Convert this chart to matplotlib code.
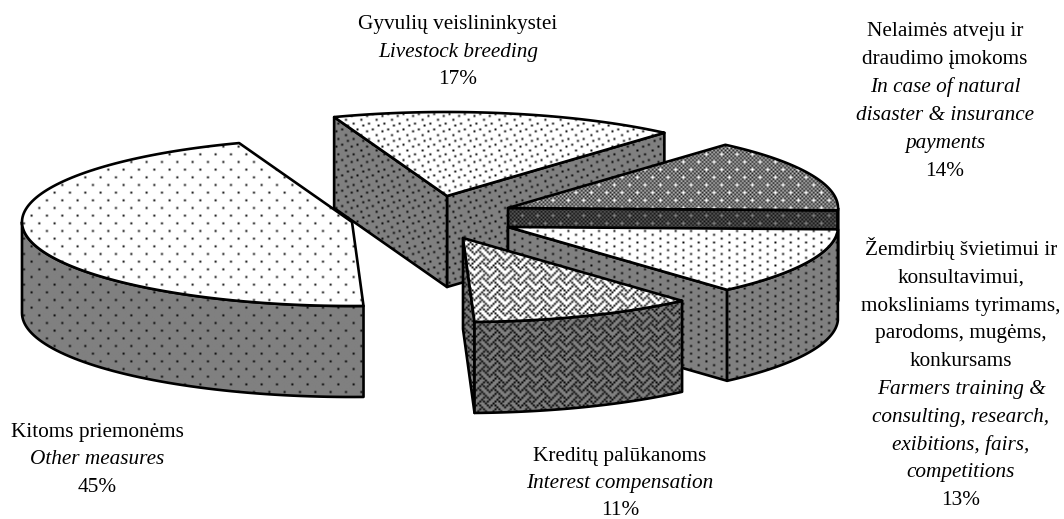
"""Exploded 3-D pie of support measures, black and white with pattern fills."""
import matplotlib
matplotlib.use("Agg")
import matplotlib.pyplot as plt
import numpy as np
from matplotlib.patches import Polygon

W, H = 1064, 519

# Shares in %, counter-clockwise from START_ANGLE
SLICES = ["other", "credit", "training", "disaster", "livestock"]
SHARES = [45, 11, 13, 14, 17]

LABELS_OTHER = ["Kitoms priemonėms", "Other measures", "45%"]
LABELS_CREDIT = ["Kreditų palūkanoms", "Interest compensation", "11%"]
LABELS_LIVESTOCK = ["Gyvulių veislininkystei", "Livestock breeding", "17%"]
LABELS_DISASTER = ["Nelaimės atveju ir", "draudimo įmokoms", "In case of natural",
                   "disaster & insurance", "payments", "14%"]
LABELS_TRAINING = ["Žemdirbių švietimui ir", "konsultavimui,", "moksliniams tyrimams,",
                   "parodoms, mugėms,", "konkursams", "Farmers training &",
                   "consulting, research,", "exibitions, fairs,", "competitions", "13%"]

# layout, in pixels
START_ANGLE = 110
RX, RY, DEPTH = 330, 84, 91
APEX = {"other": (352, 222), "credit": (463, 238), "training": (508, 227),
        "disaster": (508, 208), "livestock": (447, 196)}
DRAW_ORDER = ["livestock", "disaster", "training", "other", "credit"]
BIT = 1.917  # one bit of the 8x8 fill pattern on screen


def bits(rows):
    return np.array([[int(c) for c in r] for r in rows], dtype=float)


def dots(points):
    t = np.ones((8, 8))
    for x, y in points:
        t[y, x] = 0
    return t


checker = np.indices((8, 8)).sum(axis=0) % 2 * 1.0

TILES = {
    "other": dots([(0, 0), (4, 4)]),
    "livestock": dots([(0, 0), (5, 1), (2, 3), (7, 4), (4, 6)]),
    "training": dots([(0, 0), (4, 2), (0, 4), (4, 6)]),
    "disaster": checker * 0.7 + 0.1,
    "credit": 1 - bits(["00010001", "00101010", "01000100", "10100010",
                        "00010001", "00101000", "01000100", "10001010"]),
}
for px, py in [(0, 0), (4, 4)]:
    TILES["disaster"][py, px] = 1.0


def arc(cx, cy, a0, a1, n=60):
    t = np.radians(np.linspace(a0, a1, n))
    return np.column_stack([cx + RX * np.cos(t), cy - RY * np.sin(t)])


fig = plt.figure(figsize=(W / 100, H / 100), dpi=100)
ax = fig.add_axes([0, 0, 1, 1])
ax.axis("off")

z = [1]


def face(pts, tile, shade):
    patch = Polygon(pts, closed=True, facecolor="none", edgecolor="black",
                    linewidth=1.9, joinstyle="round", zorder=z[0] + 1)
    ax.add_patch(patch)
    rows, cols = int(H / BIT) + 2, int(W / BIT) + 2
    tex = np.tile(tile, (rows // 8 + 1, cols // 8 + 1))[:rows, :cols] * shade
    im = ax.imshow(tex, cmap="gray", vmin=0, vmax=1, aspect="auto",
                   interpolation="bilinear", zorder=z[0],
                   extent=(0, cols * BIT, rows * BIT, 0))
    im.set_clip_path(patch)
    z[0] += 2


edges = START_ANGLE + np.cumsum([0] + SHARES) * 3.6
angles = {s: (edges[i], edges[i + 1]) for i, s in enumerate(SLICES)}

for name in DRAW_ORDER:
    a0, a1 = angles[name]
    cx, cy = APEX[name]
    tile = TILES[name]
    # radial walls facing the viewer
    for a, normal in ((a0, a0 - 90), (a1, a1 + 90)):
        if np.sin(np.radians(normal)) < 0:
            p = arc(cx, cy, a, a, 1)[0]
            wall = [(cx, cy), p, (p[0], p[1] + DEPTH), (cx, cy + DEPTH)]
            face(wall, tile, 0.5)
    # outer wall, only the front half of the ellipse shows
    lo, hi = max(a0, 180), min(a1, 360)
    if hi > lo:
        top = arc(cx, cy, lo, hi)
        bottom = top[::-1] + [0, DEPTH]
        face(np.vstack([top, bottom]), tile, 0.5)
    face(np.vstack([[(cx, cy)], arc(cx, cy, a0, a1, 120)]), tile, 1.0)

ax.set_xlim(0, W)
ax.set_ylim(H, 0)


def block(lines, x, y0, step, italic=()):
    for i, line in enumerate(lines):
        ax.text(x, y0 + i * step, line, ha="center", va="baseline", color="black",
                family="Liberation Serif", fontsize=15.3,
                style="italic" if i in italic else "normal", zorder=100)


block(LABELS_LIVESTOCK, 458, 29, 27.5, italic=(1,))
block(LABELS_DISASTER, 945, 36, 28, italic=(2, 3, 4))
block(LABELS_TRAINING, 961, 255, 27.8, italic=(5, 6, 7, 8))
block(LABELS_OTHER, 97, 437, 27.5, italic=(1,))
block(LABELS_CREDIT, 620, 461, 27, italic=(1,))

fig.savefig("out.png", dpi=100)
plt.close(fig)
